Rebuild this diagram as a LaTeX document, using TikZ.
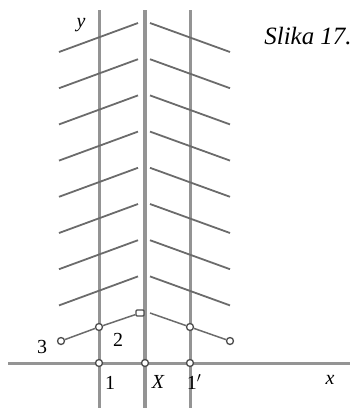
\documentclass[tikz,border=0pt]{standalone}
\usepackage{fontspec}
\setmainfont{Liberation Serif}
\begin{document}
\begin{tikzpicture}[x=1bp,y=-1bp,
  guide/.style={draw=black!42,line width=3bp},
  mainline/.style={draw=black!42,line width=4bp},
  herr/.style={draw=black!58,line width=1.8bp},
  mk/.style={circle,draw=black!70,fill=white,line width=1.3bp,inner sep=0pt,minimum size=7bp},
  sq/.style={rectangle,rounded corners=1bp,draw=black!70,fill=white,line width=1.3bp,inner sep=0pt,minimum width=8bp,minimum height=6bp},
  lab/.style={font=\fontsize{20}{20}\selectfont,inner sep=0pt}]
\useasboundingbox (0,0) rectangle (360,408);
% vertical lines and axis
\draw[guide] (99,10) -- (99,408);
\draw[guide] (190,10) -- (190,408);
\draw[mainline] (145,10) -- (145,408);
\draw[guide] (8,363) -- (350,363);
% herringbone
\foreach \k in {0,...,7}{
  \draw[herr] (59,{52+36.2*\k}) -- (138,{23+36.2*\k});
  \draw[herr] (150,{23+36.2*\k}) -- (230,{52+36.2*\k});
}
% markers
\node[mk] (p3) at (61,341) {};
\node[mk] (p2) at (99,327) {};
\node[sq] (q) at (140,313) {};
\coordinate (qr) at (150,313);
\node[mk] (p2r) at (190,327) {};
\node[mk] (p3r) at (230,341) {};
\node[mk] (p1) at (99,363) {};
\node[mk] (pX) at (145,363) {};
\node[mk] (p1r) at (190,363) {};
\draw[herr,line width=1.5bp] (p3) -- (p2) -- (q);
\draw[herr,line width=1.5bp] (qr) -- (p2r) -- (p3r);
% labels
\node[lab] (l3) at (42,347) {3};
\node[lab] (l2) at (118,340) {2};
\node[lab] (l1) at (110,383) {1};
\node[lab] (lX) at (158,382) {\itshape X};
\node[lab] (l1r) at (194,382) {1$'$};
\node[lab] (lx) at (330,380) {\itshape x};
\node[lab] (ly) at (81,25) {\itshape y};
\node[font=\fontsize{25}{25}\selectfont\itshape,inner sep=0pt] (title) at (308,36) {Slika 17.};
\end{tikzpicture}
\end{document}
